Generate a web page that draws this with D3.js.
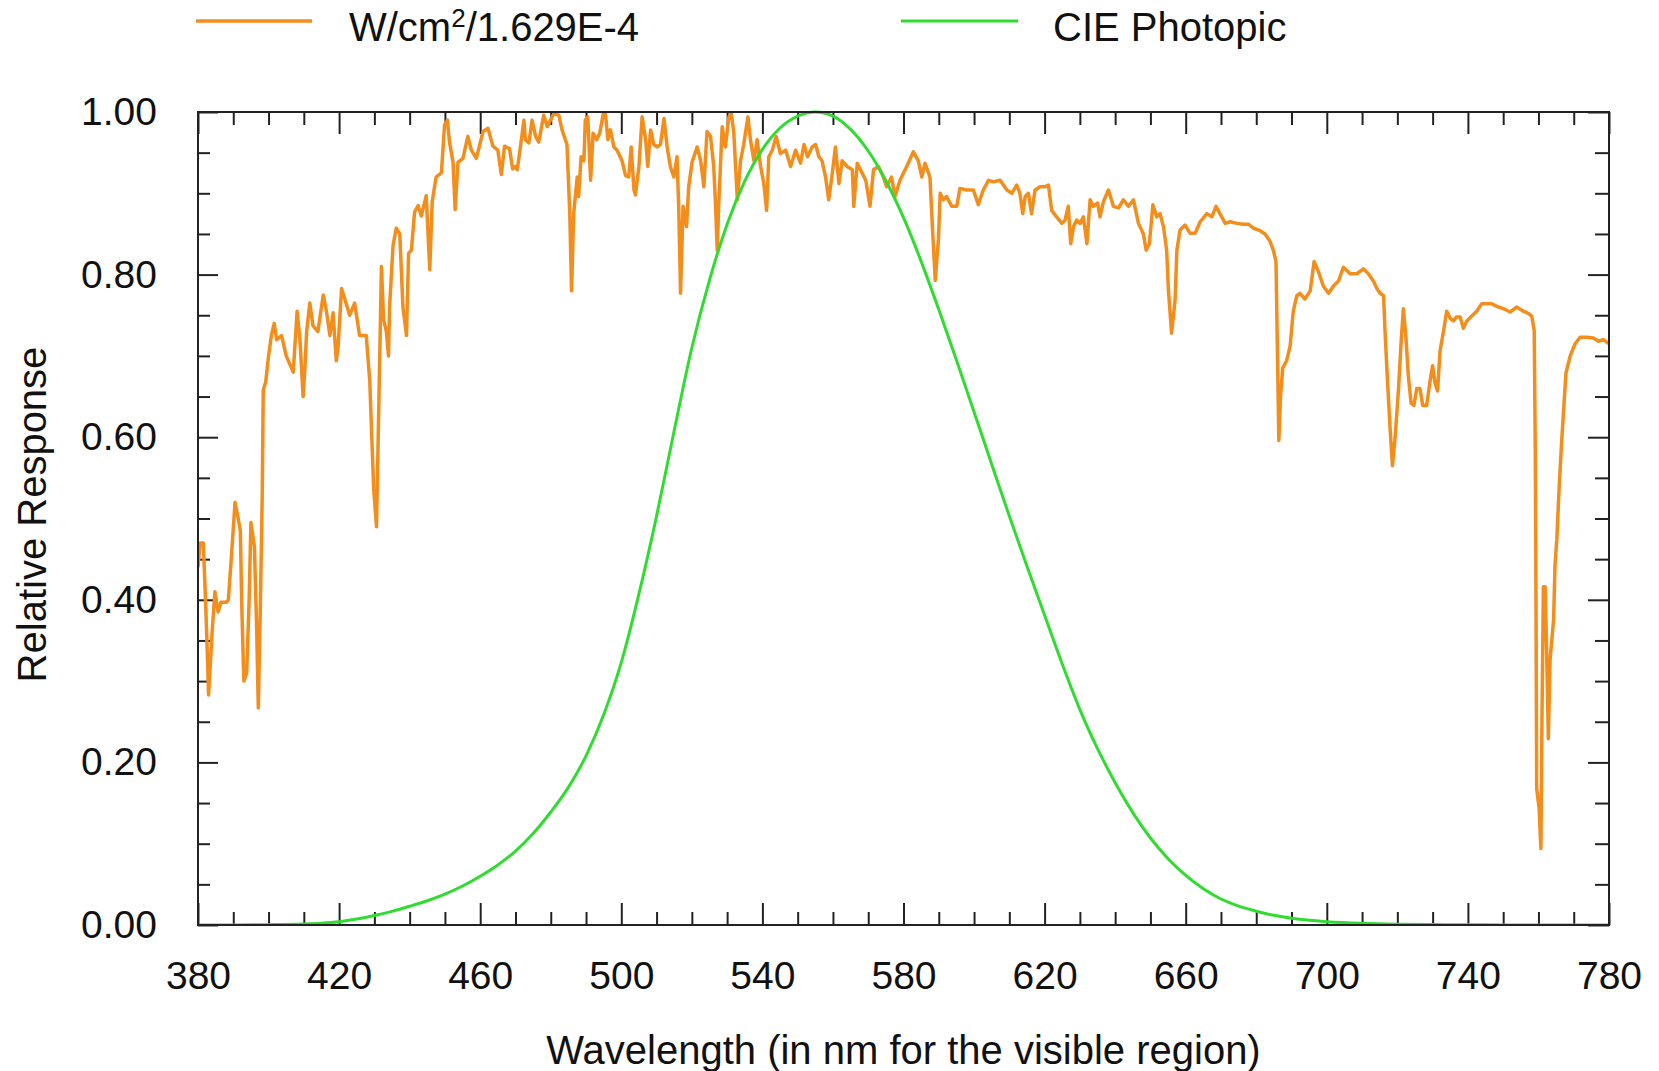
<!DOCTYPE html>
<html>
<head>
<meta charset="utf-8">
<title>Relative Response</title>
<script src="https://cdn.jsdelivr.net/npm/d3@7"></script>
<style>
  body { margin: 0; background: #fff; }
  text { font-family: "Liberation Sans", Arial, sans-serif; fill: #111; }
</style>
</head>
<body>
<script>
// solar spectrum, W/cm2 normalised by 1.629E-4
var solarNm = [380.0,380.6,381.5,382.0,382.5,383.0,384.0,384.8,385.7,386.5,388.0,388.6,389.5,390.5,391.4,392.0,392.4,393.0,393.8,394.5,395.0,396.0,396.6,397.1,397.7,398.2,398.5,399.2,400.0,400.8,401.6,402.3,403.7,405.0,407.0,408.1,408.9,409.8,410.3,410.8,411.7,412.6,414.0,415.5,416.4,417.4,418.3,419.2,419.7,420.7,421.6,423.0,424.4,425.8,427.7,428.7,429.2,429.8,430.6,431.3,432.0,432.6,433.4,434.0,434.3,435.3,436.2,437.2,438.1,439.1,439.7,440.5,441.4,442.4,443.3,444.7,445.7,446.4,447.5,449.0,449.9,450.7,451.3,452.3,452.9,453.7,455.1,456.5,457.5,458.9,460.8,462.2,463.6,465.0,466.0,466.9,468.3,469.2,470.0,470.5,471.4,472.4,472.8,473.8,474.7,475.7,476.6,478.0,479.0,479.9,480.9,482.3,483.2,484.6,485.4,485.9,486.5,487.5,487.9,488.6,489.4,489.8,490.5,491.3,492.0,493.0,493.9,494.9,495.5,496.2,496.9,497.9,498.8,500.2,501.2,502.1,502.8,503.6,504.0,505.0,505.9,506.9,507.5,508.3,509.2,510.2,511.1,512.1,513.0,513.9,514.9,515.8,516.3,516.8,517.5,518.5,519.1,520.1,521.5,522.5,523.4,524.3,525.3,526.2,526.7,527.2,527.6,528.6,529.5,530.5,531.2,531.9,532.9,533.8,534.7,535.9,536.6,537.6,538.5,539.5,540.4,541.2,541.8,542.8,543.9,545.1,546.6,548.0,549.4,550.8,551.8,552.8,554.1,555.1,556.0,556.9,557.9,558.8,559.8,560.7,561.7,562.6,564.0,565.5,565.9,566.9,567.8,569.3,570.5,571.5,572.9,574.3,575.2,576.6,577.6,579.0,580.9,582.8,584.2,585.2,586.1,587.5,588.3,589.0,589.9,590.4,591.3,592.2,593.7,595.1,596.0,597.9,599.8,601.2,602.6,604.1,605.5,607.4,609.3,610.7,612.1,613.0,613.8,614.5,615.4,616.3,617.3,618.7,620.1,621.1,622.0,623.4,624.9,625.8,626.7,627.4,628.2,629.1,630.1,631.0,632.0,632.9,633.8,635.0,635.7,636.7,638.1,639.5,641.0,642.3,643.8,645.2,646.6,648.0,648.8,649.7,650.7,651.8,652.7,653.7,654.6,655.1,656.0,657.0,657.5,658.4,659.8,661.2,662.7,664.1,666.0,667.4,668.6,669.7,671.2,672.6,674.5,676.4,677.8,679.2,681.1,682.5,683.9,684.9,685.6,686.0,686.4,686.9,687.5,688.6,689.6,690.5,691.5,692.4,693.8,695.3,696.4,697.6,699.0,700.5,701.9,703.3,704.7,706.6,708.5,710.4,711.8,713.2,714.2,715.1,716.1,716.5,717.2,717.9,718.6,719.3,720.3,721.0,721.7,722.4,723.1,723.9,724.7,725.5,726.4,727.2,728.3,729.3,730.0,730.7,731.4,732.1,733.1,734.0,735.0,735.9,736.8,737.8,738.7,739.7,741.1,742.5,743.9,745.3,746.8,748.2,750.1,752.0,753.8,755.7,757.2,758.1,758.8,759.1,759.3,759.5,760.2,760.7,761.0,761.4,761.9,762.4,762.8,763.3,764.3,764.7,765.2,765.9,766.6,767.3,767.8,769.0,770.4,771.8,773.7,775.6,777.0,778.4,780.0];
var solarVal = [0.44,0.47,0.47,0.415,0.354,0.283,0.36,0.41,0.385,0.397,0.397,0.40,0.455,0.52,0.50,0.485,0.395,0.30,0.31,0.40,0.495,0.465,0.37,0.267,0.397,0.526,0.658,0.668,0.70,0.725,0.74,0.72,0.725,0.70,0.68,0.755,0.72,0.65,0.685,0.73,0.765,0.737,0.73,0.775,0.755,0.725,0.753,0.694,0.71,0.783,0.77,0.75,0.765,0.725,0.725,0.669,0.608,0.537,0.49,0.648,0.81,0.745,0.73,0.70,0.76,0.836,0.857,0.85,0.76,0.725,0.826,0.83,0.877,0.885,0.872,0.897,0.806,0.89,0.92,0.925,0.984,0.99,0.963,0.938,0.88,0.938,0.943,0.97,0.953,0.943,0.976,0.98,0.958,0.953,0.923,0.958,0.955,0.93,0.933,0.929,0.957,0.99,0.966,0.962,0.99,0.97,0.963,0.996,0.982,0.99,0.998,0.996,0.978,0.96,0.875,0.78,0.875,0.92,0.896,0.945,0.94,0.99,0.994,0.916,0.974,0.966,0.974,0.998,0.998,0.966,0.978,0.957,0.953,0.94,0.922,0.92,0.957,0.904,0.898,0.933,0.994,0.966,0.933,0.978,0.96,0.957,0.96,0.992,0.957,0.933,0.92,0.945,0.879,0.777,0.884,0.859,0.908,0.939,0.957,0.94,0.908,0.976,0.97,0.933,0.888,0.83,0.884,0.982,0.957,0.994,0.998,0.974,0.892,0.94,0.96,0.994,0.966,0.94,0.966,0.933,0.912,0.879,0.945,0.953,0.97,0.949,0.953,0.933,0.953,0.937,0.96,0.945,0.957,0.96,0.945,0.94,0.92,0.892,0.924,0.957,0.912,0.94,0.933,0.929,0.884,0.937,0.929,0.916,0.884,0.929,0.933,0.92,0.908,0.92,0.896,0.916,0.933,0.951,0.94,0.92,0.937,0.92,0.85,0.793,0.843,0.90,0.892,0.896,0.884,0.884,0.906,0.904,0.904,0.886,0.904,0.916,0.914,0.916,0.904,0.90,0.91,0.90,0.875,0.896,0.90,0.875,0.904,0.908,0.908,0.91,0.879,0.871,0.863,0.867,0.884,0.838,0.859,0.867,0.863,0.871,0.838,0.892,0.884,0.888,0.871,0.89,0.904,0.884,0.882,0.892,0.884,0.892,0.863,0.85,0.83,0.838,0.886,0.871,0.875,0.859,0.83,0.781,0.728,0.769,0.83,0.855,0.861,0.851,0.851,0.865,0.875,0.871,0.884,0.875,0.863,0.865,0.863,0.862,0.862,0.857,0.854,0.85,0.841,0.829,0.816,0.706,0.596,0.651,0.685,0.694,0.712,0.755,0.774,0.777,0.77,0.78,0.816,0.804,0.786,0.777,0.786,0.792,0.809,0.801,0.801,0.807,0.801,0.792,0.783,0.777,0.774,0.731,0.67,0.614,0.565,0.596,0.657,0.712,0.758,0.725,0.676,0.642,0.639,0.66,0.66,0.639,0.639,0.67,0.688,0.666,0.657,0.706,0.731,0.755,0.746,0.743,0.748,0.748,0.734,0.743,0.749,0.755,0.764,0.764,0.764,0.761,0.758,0.754,0.76,0.755,0.752,0.749,0.731,0.584,0.40,0.168,0.143,0.094,0.253,0.416,0.416,0.32,0.229,0.327,0.376,0.443,0.474,0.541,0.596,0.645,0.679,0.70,0.715,0.723,0.723,0.722,0.718,0.72,0.715];

// CIE photopic luminosity V(lambda)
var cieNm = [380,390,400,410,415,420,425,430,435,440,445,450,455,460,465,470,475,480,485,490,495,500,505,510,515,520,525,530,535,540,545,550,555,560,565,570,575,580,585,590,595,600,605,610,615,620,625,630,635,640,645,650,655,660,665,670,675,680,685,690,695,700,710,720,730,740,750,760,770,780];
var cieVal = [0.000039,0.00012,0.000396,0.00121,0.00218,0.004,0.0073,0.0116,0.0168,0.023,0.0298,0.038,0.048,0.06,0.0739,0.09098,0.1126,0.13902,0.1693,0.208,0.2586,0.323,0.4073,0.503,0.6082,0.71,0.7932,0.862,0.91485,0.954,0.9803,0.99495,1.0,0.995,0.9786,0.952,0.9154,0.87,0.8163,0.757,0.6949,0.631,0.5668,0.503,0.4412,0.381,0.321,0.265,0.217,0.175,0.1382,0.107,0.0816,0.061,0.04458,0.032,0.0232,0.017,0.01192,0.00821,0.005723,0.004102,0.002091,0.001047,0.00052,0.000249,0.00012,0.00006,0.00003,0.000015];

var xTicks = [380, 420, 460, 500, 540, 580, 620, 660, 700, 740, 780];
var yTicks = [0, 0.2, 0.4, 0.6, 0.8, 1.0];
var legendNames = ["W/cm", "CIE Photopic"];

var breedte = 1659, hoogte = 1071;
var marge = {boven: 112, links: 198, rechts: 50, beneden: 146};
var plotB = breedte - marge.links - marge.rechts;
var plotH = hoogte - marge.boven - marge.beneden;

var oranje = "#f38e1c", groen = "#30dc30";

var svg = d3.select("body").append("svg")
  .attr("width", breedte)
  .attr("height", hoogte);

var x = d3.scaleLinear().domain([380, 780]).range([marge.links, marge.links + plotB]);
var y = d3.scaleLinear().domain([0, 1]).range([marge.boven + plotH, marge.boven]);

svg.append("clipPath").attr("id", "plotclip")
  .append("rect")
  .attr("x", marge.links).attr("y", marge.boven - 2)
  .attr("width", plotB).attr("height", plotH + 2);

// ticks: minor every 10 nm / 0.05, major at labels, all pointing inward
var minorX = d3.range(380, 781, 10).filter(function(v) { return xTicks.indexOf(v) < 0; });
var minorY = d3.range(0, 21).map(function(i) { return i / 20; })
  .filter(function(v) { return yTicks.every(function(t) { return Math.abs(t - v) > 1e-6; }); });

function tekenAs(as, transform) {
  var g = svg.append("g").attr("transform", transform).call(as);
  g.select(".domain").remove();
  g.selectAll("line").attr("stroke", "#222").attr("stroke-width", 2);
  g.attr("font-family", null).attr("font-size", 39);
  g.selectAll("text").attr("fill", "#111");
  return g;
}

var onder = "translate(0," + (marge.boven + plotH) + ")";
var boven = "translate(0," + marge.boven + ")";
var links = "translate(" + marge.links + ",0)";
var rechts = "translate(" + (marge.links + plotB) + ",0)";

tekenAs(d3.axisBottom(x).tickValues(minorX).tickSize(-13).tickFormat(""), onder);
tekenAs(d3.axisBottom(x).tickValues(xTicks).tickSize(-22).tickPadding(36).tickFormat(d3.format("d")), onder);
tekenAs(d3.axisTop(x).tickValues(minorX).tickSize(-13).tickFormat(""), boven);
tekenAs(d3.axisTop(x).tickValues(xTicks).tickSize(-22).tickFormat(""), boven);
tekenAs(d3.axisLeft(y).tickValues(minorY).tickSize(-12).tickFormat(""), links);
tekenAs(d3.axisLeft(y).tickValues(yTicks).tickSize(-20).tickPadding(41).tickFormat(d3.format(".2f")), links);
tekenAs(d3.axisRight(y).tickValues(minorY).tickSize(-14).tickFormat(""), rechts);
tekenAs(d3.axisRight(y).tickValues(yTicks).tickSize(-21).tickFormat(""), rechts);

// curves
var solar = solarNm.map(function(d, i) { return {nm: d, v: solarVal[i]}; });
var cie = cieNm.map(function(d, i) { return {nm: d, v: cieVal[i]}; });

var lijn = d3.line()
  .x(function(d) { return x(d.nm); })
  .y(function(d) { return y(d.v); });

svg.append("path")
  .datum(solar)
  .attr("clip-path", "url(#plotclip)")
  .attr("d", lijn)
  .attr("fill", "none")
  .attr("stroke", oranje)
  .attr("stroke-width", 3.5)
  .attr("stroke-linejoin", "round");

svg.append("path")
  .datum(cie)
  .attr("clip-path", "url(#plotclip)")
  .attr("d", lijn.curve(d3.curveMonotoneX))
  .attr("fill", "none")
  .attr("stroke", groen)
  .attr("stroke-width", 3);

// frame
svg.append("rect")
  .attr("x", marge.links).attr("y", marge.boven)
  .attr("width", plotB).attr("height", plotH)
  .attr("fill", "none")
  .attr("stroke", "#222")
  .attr("stroke-width", 2);

// axis titles
svg.append("text")
  .attr("x", marge.links + plotB / 2)
  .attr("y", 1064)
  .attr("text-anchor", "middle")
  .attr("font-size", 40)
  .text("Wavelength (in nm for the visible region)");

svg.append("text")
  .attr("transform", "translate(46," + (marge.boven + plotH / 2 - 4) + ") rotate(-90)")
  .attr("text-anchor", "middle")
  .attr("font-size", 40)
  .text("Relative Response");

// legend
var leg1 = svg.append("g");
leg1.append("line").attr("x1", 196).attr("x2", 312).attr("y1", 21).attr("y2", 21)
  .attr("stroke", oranje).attr("stroke-width", 3.5);
var t1 = leg1.append("text").attr("x", 349).attr("y", 41).attr("font-size", 40);
t1.append("tspan").text(legendNames[0]);
t1.append("tspan").attr("dy", -14).attr("font-size", 26).text("2");
t1.append("tspan").attr("dy", 14).text("/1.629E-4");

var leg2 = svg.append("g");
leg2.append("line").attr("x1", 901).attr("x2", 1018).attr("y1", 21).attr("y2", 21)
  .attr("stroke", groen).attr("stroke-width", 3);
leg2.append("text").attr("x", 1053).attr("y", 41).attr("font-size", 40).text(legendNames[1]);
</script>
</body>
</html>
